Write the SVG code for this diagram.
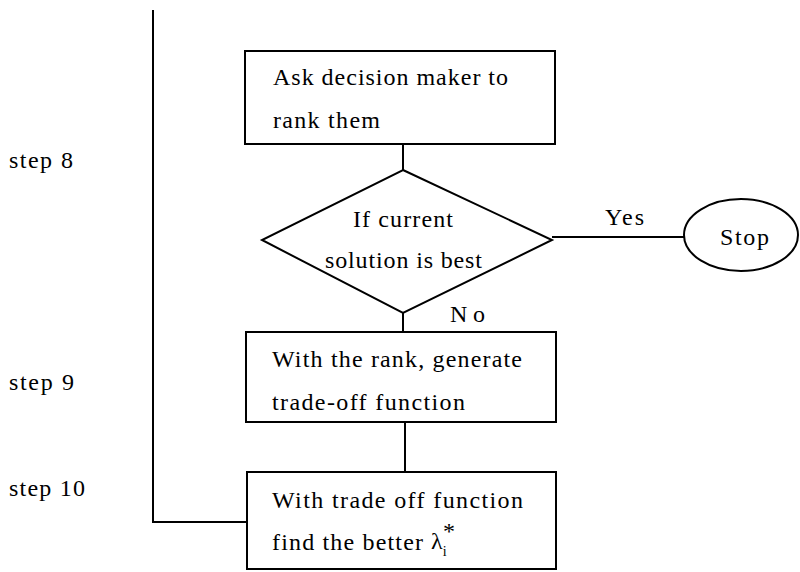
<svg xmlns="http://www.w3.org/2000/svg" width="800" height="572" viewBox="0 0 800 572">
<style>
.s{fill:none;stroke:#000;stroke-width:2}
.t{font-family:"Liberation Serif",serif;font-size:24px;fill:#000}
.m{text-anchor:middle}
</style>
<rect width="800" height="572" fill="#fff"/>
<g id="connectors">
<polyline class="s" points="153,10 153,522 246,522"/>
<line class="s" x1="403" y1="144" x2="403" y2="170"/>
<line class="s" x1="552" y1="237" x2="684" y2="237"/>
<line class="s" x1="403" y1="313" x2="403" y2="332"/>
<line class="s" x1="405" y1="422" x2="405" y2="472"/>
<text class="t" x="605" y="225" textLength="39" lengthAdjust="spacing">Yes</text>
<text class="t" x="450" y="322" textLength="35" lengthAdjust="spacing">No</text>
</g>
<g id="labels">
<text class="t" x="9" y="168" textLength="64" lengthAdjust="spacing">step 8</text>
<text class="t" x="9" y="390" textLength="65" lengthAdjust="spacing">step 9</text>
<text class="t" x="9" y="496" textLength="76" lengthAdjust="spacing">step 10</text>
</g>
<g id="rank">
<rect class="s" x="245" y="51" width="310" height="93"/>
<text class="t" x="273" y="85" textLength="235" lengthAdjust="spacing">Ask decision maker to</text>
<text class="t" x="273" y="128" textLength="107" lengthAdjust="spacing">rank them</text>
</g>
<g id="decision">
<polygon class="s" points="403,170 552,240 403,313 262,240"/>
<text class="t" x="353" y="227" textLength="100" lengthAdjust="spacing">If current</text>
<text class="t" x="325" y="268" textLength="157" lengthAdjust="spacing">solution is best</text>
</g>
<g id="stop">
<ellipse class="s" cx="741" cy="235" rx="57" ry="36"/>
<text class="t" x="720" y="245" textLength="49" lengthAdjust="spacing">Stop</text>
</g>
<g id="tradeoff">
<rect class="s" x="246" y="332" width="310" height="90"/>
<text class="t" x="272" y="367" textLength="250" lengthAdjust="spacing">With the rank, generate</text>
<text class="t" x="272" y="410" textLength="193" lengthAdjust="spacing">trade-off function</text>
</g>
<g id="better">
<rect class="s" x="247" y="472" width="309" height="97"/>
<text class="t" x="272" y="550" textLength="151" lengthAdjust="spacing">find the better</text>
<text class="t" x="272" y="508" textLength="251" lengthAdjust="spacing">With trade off function</text>
<text class="t" x="431" y="549" font-size="24">λ<tspan font-size="14" dy="7">i</tspan></text>
<text class="t" x="443" y="539" font-size="17">*</text>
</g>
</svg>
